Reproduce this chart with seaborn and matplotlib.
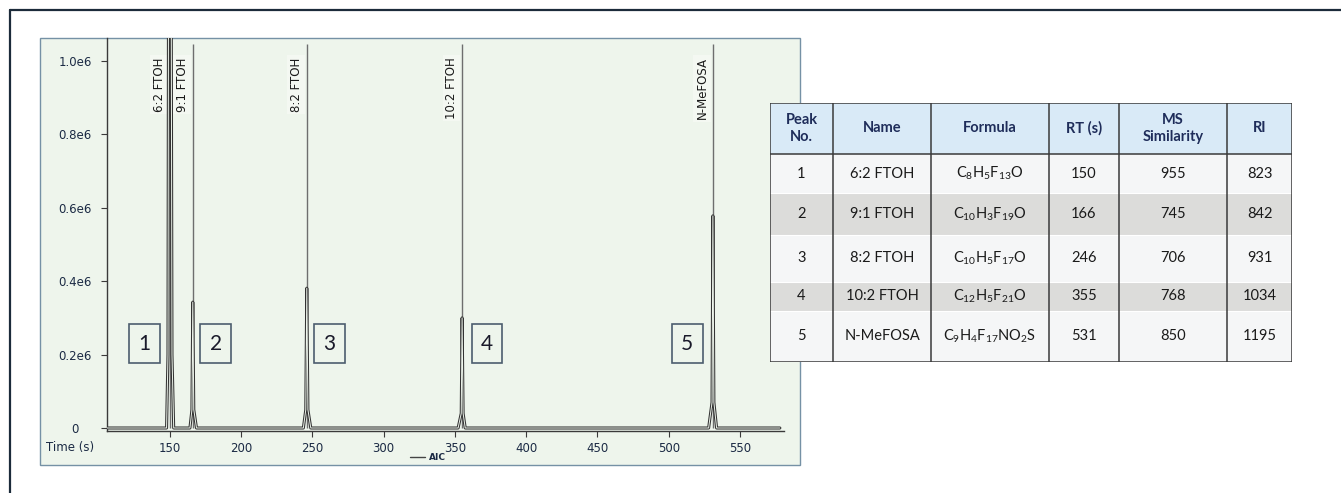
import matplotlib
matplotlib.use("Agg")
import matplotlib.pyplot as plt
import matplotlib.patheffects as pe
from matplotlib.patches import Rectangle
from matplotlib.lines import Line2D
import seaborn as sns
import pandas as pd

# ---------------- data ----------------
peak_no = [1, 2, 3, 4, 5]
names = ["6:2 FTOH", "9:1 FTOH", "8:2 FTOH", "10:2 FTOH", "N-MeFOSA"]
formulas = [r"$\mathregular{C_8H_5F_{13}O}$", r"$\mathregular{C_{10}H_3F_{19}O}$",
            r"$\mathregular{C_{10}H_5F_{17}O}$", r"$\mathregular{C_{12}H_5F_{21}O}$",
            r"$\mathregular{C_9H_4F_{17}NO_2S}$"]
rt_s = [150, 166, 246, 355, 531]
ms_similarity = [955, 745, 706, 768, 850]
ri = [823, 842, 931, 1034, 1195]

# chromatogram trace (AIC)
trace_time = [105.8,
              147.6, 148.6, 149.0, 150.8, 151.4, 152.6,
              164.0, 165.4, 166.0, 166.7, 168.6,
              243.6, 245.3, 246.0, 246.8, 248.8,
              352.2, 354.4, 355.0, 355.7, 357.2,
              528.0, 530.4, 531.0, 531.7, 533.6,
              578.0]
trace_signal = [0,
                0, 0.20e6, 1.30e6, 1.30e6, 0.20e6, 0,
                0, 0.05e6, 0.343e6, 0.05e6, 0,
                0, 0.05e6, 0.381e6, 0.05e6, 0,
                0, 0.04e6, 0.300e6, 0.04e6, 0,
                0, 0.07e6, 0.578e6, 0.07e6, 0,
                0]

y_ticks = [0, 0.2e6, 0.4e6, 0.6e6, 0.8e6, 1.0e6]
y_tick_labels = ["0", "0.2e6", "0.4e6", "0.6e6", "0.8e6", "1.0e6"]
x_ticks = [150, 200, 250, 300, 350, 400, 450, 500, 550]

# layout constants
box_offsets = [-18, 16, 16, 17.5, -18]   # number boxes relative to peak (s)
box_level = 0.23e6

# ---------------- style ----------------
sns.set_style("white")
plt.rcParams["font.family"] = ["DejaVu Sans"]
plt.rcParams["mathtext.fontset"] = "custom"
plt.rcParams["mathtext.rm"] = "Lato"

W, H = 1341, 493
fig = plt.figure(figsize=(W / 100, H / 100), dpi=100)
fig.patch.set_facecolor("white")

def fx(x):
    return x / W

def fy(y):
    return 1 - y / H

PANEL = "#eef5ec"
NAVY = "#1b2a44"

# outer frame (partially outside the picture)
fig.add_artist(Line2D([fx(10), 1.01], [fy(10), fy(10)], color="#1c2b3a", lw=1.6,
                      transform=fig.transFigure))
fig.add_artist(Line2D([fx(10), fx(10)], [fy(10), -0.01], color="#1c2b3a", lw=1.6,
                      transform=fig.transFigure))

# chart panel
panel = Rectangle((fx(40), fy(465)), fx(800) - fx(40), fy(38) - fy(465),
                  transform=fig.transFigure, facecolor=PANEL, edgecolor="#7591a5",
                  lw=1.0, zorder=-5)
fig.add_artist(panel)

ax = fig.add_axes([fx(107), fy(431), fx(784) - fx(107), fy(38) - fy(431)])
ax.patch.set_alpha(0)

df = pd.DataFrame({"time": trace_time, "signal": trace_signal})

# peak marker lines
ax.vlines(rt_s, 0, 1.046e6, color="#6e6e6e", lw=1.0, zorder=1)

sns.lineplot(data=df, x="time", y="signal", ax=ax, sort=False, estimator=None,
             color=PANEL, lw=0.7, zorder=3)
ax.lines[-1].set_path_effects([pe.Stroke(linewidth=2.2, foreground="#333333"), pe.Normal()])

ax.set_xlim(105.8, 580.9)
ax.set_ylim(-0.00817e6, 1.0627e6)
ax.set_xlabel("")
ax.set_ylabel("")

for s in ["top", "right"]:
    ax.spines[s].set_visible(False)
for s in ["left", "bottom"]:
    ax.spines[s].set_color("#3a3a3a")
    ax.spines[s].set_linewidth(1.0)

ax.set_yticks(y_ticks)
ax.set_yticklabels(y_tick_labels)
ax.set_xticks(x_ticks)
ax.set_xticklabels([str(v) for v in x_ticks])
ax.tick_params(axis="both", direction="out", length=4, width=0.8, color="#3a3a3a",
               labelsize=8.5, labelcolor=NAVY, left=True, bottom=True)
ax.tick_params(axis="y", pad=19)
ax.tick_params(axis="x", pad=4)
for lab in ax.get_yticklabels():
    lab.set_horizontalalignment("center")

fig.text(fx(70), fy(447), "Time (s)", ha="center", va="center", fontsize=8.5, color=NAVY)

# peak name labels
for name, t in zip(names, rt_s):
    ax.annotate(name, xy=(t, 1.01e6), xytext=(-3, 0), textcoords="offset points",
                rotation=90, ha="right", va="top", fontsize=8.5, color="#1a1a1a",
                bbox=dict(boxstyle="square,pad=0.2", fc="#f4f8f2", ec="none"), zorder=2)

# numbered boxes
for n, t, off in zip(peak_no, rt_s, box_offsets):
    ax.text(t + off, box_level, str(n), fontsize=15, family="Lato", color="#1a1a2a",
            ha="center", va="center", zorder=4,
            bbox=dict(boxstyle="square,pad=0.45", fc="none", ec="#4d5d6e", lw=1.2))

# legend
fig.legend(handles=[Line2D([0], [0], color="#444444", lw=1.0)], labels=["AIC"],
           loc="center", bbox_to_anchor=(fx(428), fy(458)), frameon=False,
           handlelength=1.6, handletextpad=0.4, borderpad=0,
           prop={"size": 6.5, "weight": "bold"}, labelcolor=NAVY)

# ---------------- table ----------------
col_edges = [770, 833, 931, 1049, 1119, 1227, 1292]
row_edges = [103, 154, 193, 235, 282, 311, 362]
axt = fig.add_axes([fx(770), fy(362), fx(1292) - fx(770), fy(103) - fy(362)])
axt.set_zorder(5)
axt.set_xlim(770, 1292)
axt.set_ylim(362, 103)
axt.axis("off")

headers = ["Peak\nNo.", "Name", "Formula", "RT (s)", "MS\nSimilarity", "RI"]
rows = [[str(p), n, f, str(r), str(m), str(i)]
        for p, n, f, r, m, i in zip(peak_no, names, formulas, rt_s, ms_similarity, ri)]

row_colors = ["#f5f6f7", "#dcdcda"]
axt.add_patch(Rectangle((770, 103), 1292 - 770, 154 - 103, facecolor="#d9eaf7",
                        edgecolor="none", zorder=0))
for k in range(5):
    y0, y1 = row_edges[k + 1], row_edges[k + 2]
    axt.add_patch(Rectangle((770, y0), 1292 - 770, y1 - y0,
                            facecolor=row_colors[k % 2], edgecolor="none", zorder=0))
    if k > 0:
        axt.plot([770, 1292], [y0, y0], color="white", lw=0.8, zorder=1)

for xe in col_edges:
    axt.plot([xe, xe], [103, 362], color="#3a3a3a", lw=1.1, zorder=2)
for ye in [103, 154, 362]:
    axt.plot([770, 1292], [ye, ye], color="#3a3a3a", lw=1.1, zorder=2)

for c, h in enumerate(headers):
    xc = (col_edges[c] + col_edges[c + 1]) / 2
    yc = (row_edges[0] + row_edges[1]) / 2
    axt.text(xc, yc, h, ha="center", va="center", fontsize=10.5, family="Lato",
             weight="bold", color="#1f2d5a", linespacing=1.3, zorder=3)

for r, row in enumerate(rows):
    yc = (row_edges[r + 1] + row_edges[r + 2]) / 2
    for c, val in enumerate(row):
        xc = (col_edges[c] + col_edges[c + 1]) / 2
        axt.text(xc, yc, val, ha="center", va="center", fontsize=10.5, family="Lato",
                 color="#1a1a1a", zorder=3)

fig.savefig("out.png", dpi=100, facecolor="white")
